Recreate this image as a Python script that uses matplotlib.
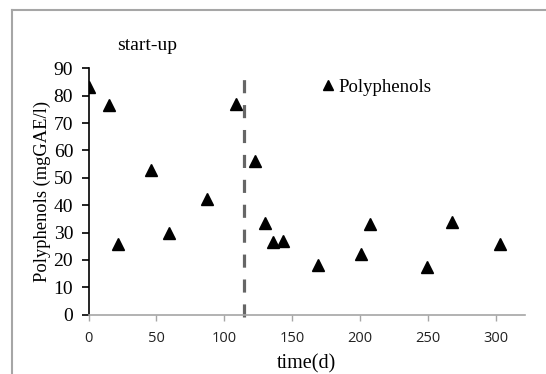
import matplotlib
matplotlib.use("Agg")
import matplotlib.pyplot as plt
from matplotlib.lines import Line2D

# Polyphenol concentration over the operating period
time_d = [0, 15, 22, 46, 59, 87, 109, 123, 130, 136, 143, 169, 201, 207, 249, 268, 303]
polyphenols = [83, 76.5, 25.7, 53, 29.7, 42.2, 77, 56, 33.6, 26.5, 26.8, 18, 22, 33, 17.5, 34, 26]

startup_end = 114.5      # end of the start-up phase (days)
startup_top = 86         # height of the marker line
x_ticks = [0, 50, 100, 150, 200, 250, 300]
y_ticks = [0, 10, 20, 30, 40, 50, 60, 70, 80, 90]

W, H = 546, 374
fig = plt.figure(figsize=(W / 100, H / 100), dpi=100)
fig.patch.set_facecolor("white")

# outer frame (top and left edges only)
frame_col = "#a6a6a6"
fig.add_artist(Line2D([11.5 / W, 1.0], [1 - 9.5 / H, 1 - 9.5 / H],
                      transform=fig.transFigure, color=frame_col, lw=1.5))
fig.add_artist(Line2D([11.5 / W, 11.5 / W], [0, 1 - 9.5 / H],
                      transform=fig.transFigure, color=frame_col, lw=1.5))

left, bottom = 88.5 / W, (H - 314.7) / H
width, height = (525 - 88.5) / W, 246.4 / H
ax = fig.add_axes([left, bottom, width, height])

serif = "Liberation Serif"

ax.plot(time_d, polyphenols, linestyle="none", marker="^", ms=8.8,
        color="black", label="Polyphenols")

ax.plot([startup_end, startup_end], [-0.8, startup_top], color="#666666",
        lw=2.3, dashes=(4.1, 3.7), solid_capstyle="butt", dash_capstyle="butt",
        clip_on=False, zorder=1)

ax.set_xlim(0, 321.5)
ax.set_ylim(0, 90)
ax.set_xticks(x_ticks)
ax.set_yticks(y_ticks)

for s in ("top", "right"):
    ax.spines[s].set_visible(False)
ax.spines["left"].set_color("black")
ax.spines["left"].set_linewidth(1.2)
ax.spines["bottom"].set_color("#a6a6a6")
ax.spines["bottom"].set_linewidth(1.2)

ax.tick_params(axis="x", direction="out", length=4, color="#a6a6a6",
               width=1, pad=8, labelsize=10.5, labelcolor="#222222")
ax.tick_params(axis="y", direction="out", length=5, color="black",
               width=1.2, pad=6, labelsize=14)
for lbl in ax.get_xticklabels():
    lbl.set_fontfamily("Open Sans")
for lbl in ax.get_yticklabels():
    lbl.set_fontfamily(serif)

ax.set_xlabel("time(d)", fontfamily=serif, fontsize=14.5, labelpad=6)
ax.set_ylabel("Polyphenols (mgGAE/l)", fontfamily=serif, fontsize=13.3, labelpad=2)

fig.text(147 / W, 1 - 46 / H, "start-up", fontfamily=serif, fontsize=14,
         ha="center", va="center")

ax.legend(loc="center left", bbox_to_anchor=(320 / W, 1 - 87 / H),
          bbox_transform=fig.transFigure, frameon=False,
          handlelength=0.9, handletextpad=0.1, borderpad=0, borderaxespad=0,
          markerscale=0.8, prop={"family": serif, "size": 13.5})

fig.savefig("out.png", dpi=100, facecolor="white")
